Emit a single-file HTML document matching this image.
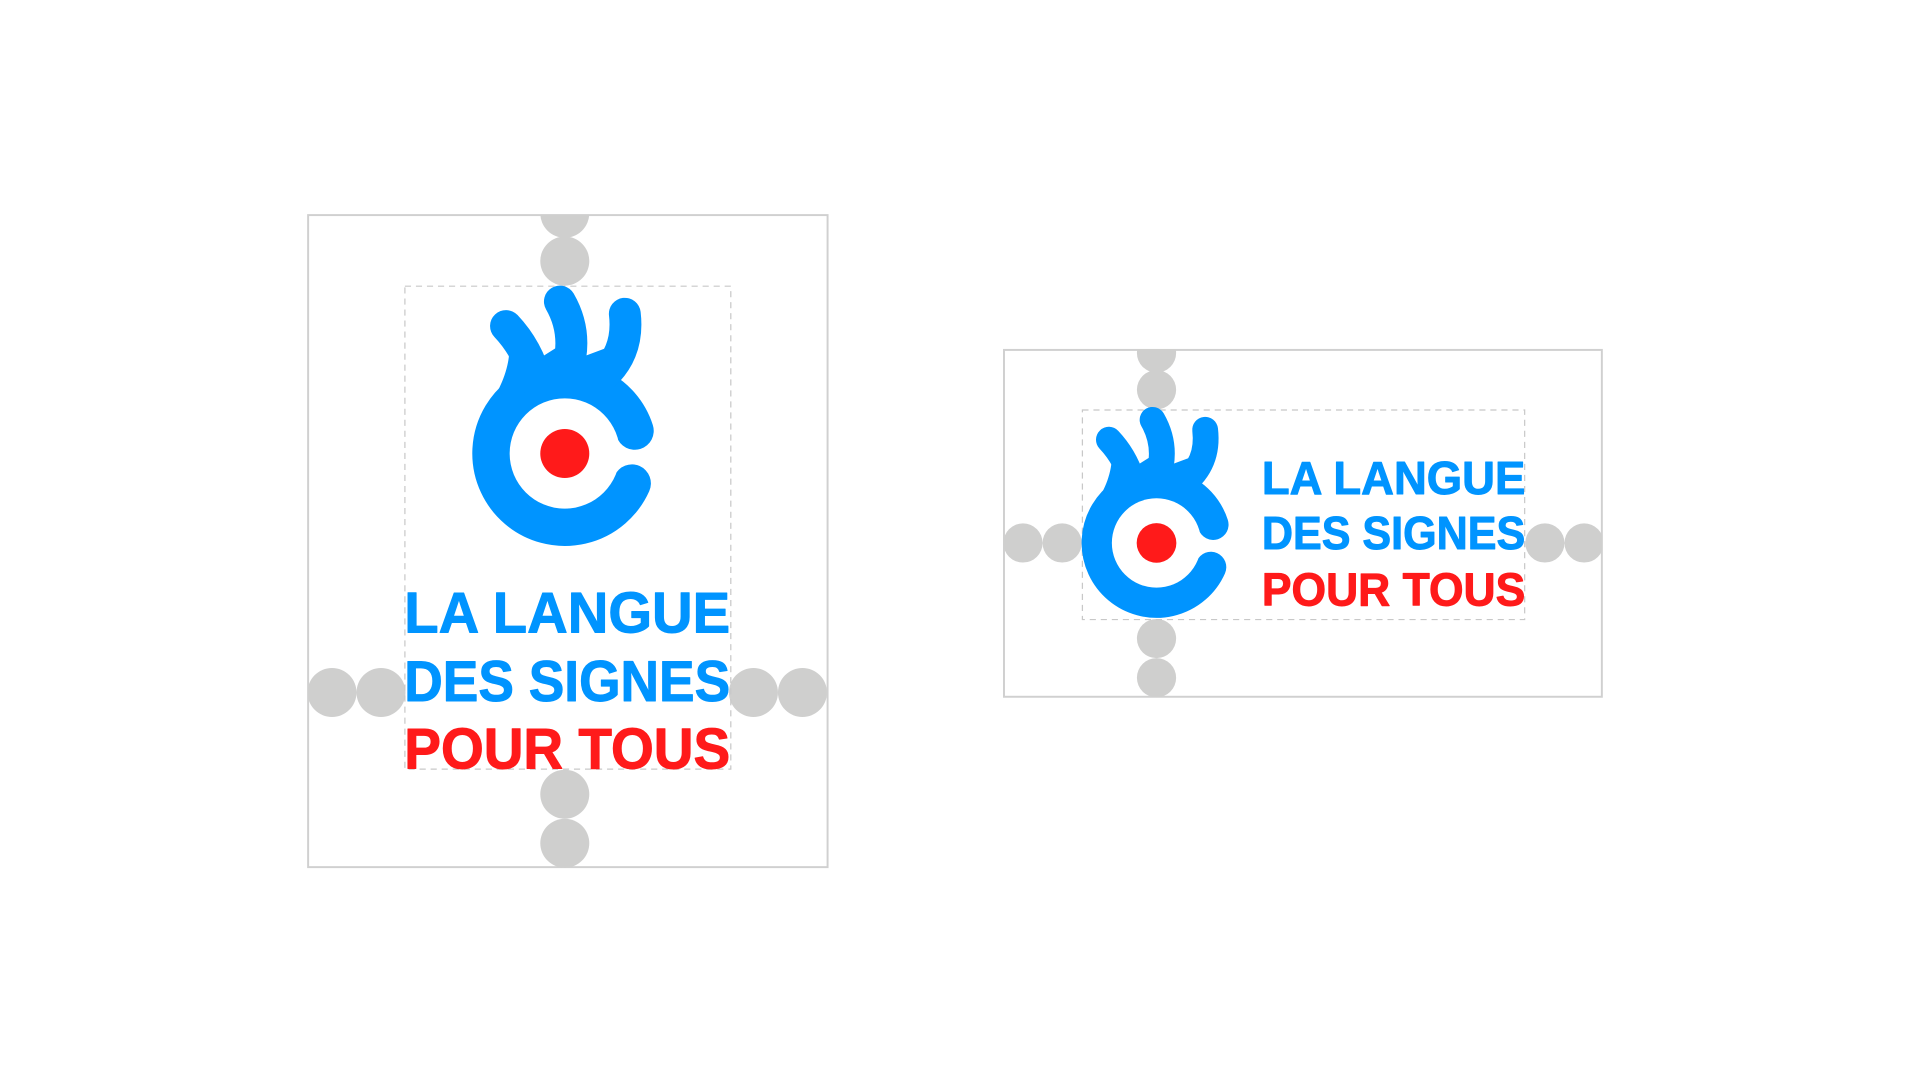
<!DOCTYPE html>
<html><head><meta charset="utf-8"><style>
html,body{margin:0;padding:0;background:#fff;width:1921px;height:1081px;overflow:hidden}
svg{display:block}
text{font-family:"Liberation Sans",sans-serif;font-weight:bold;stroke-width:0.8;stroke-linejoin:round}
</style></head><body>
<svg width="1921" height="1081" viewBox="0 0 1568 882" preserveAspectRatio="none">
<defs>
<clipPath id="c1"><rect x="251" y="175" width="425" height="533"/></clipPath>
<clipPath id="c2"><rect x="819" y="285" width="489" height="284"/></clipPath>
<g id="logo">
  <path d="M515.8 394.4 A60 60 0 1 1 518.1 351.5" fill="none" stroke="#0094ff" stroke-width="31" stroke-linecap="round"/>
  <path d="M398 332 C410 316 416 298 416 282 L430 280 L441 292 L460 280 L472 280 L476 291 L500 282 L505 300 L503 309 C515 317 525 330 530 342 L505 352 L500 340 L461 318 L420 335 Z" fill="#0094ff"/>
  <path d="M413 266 Q431 285 438 312" fill="none" stroke="#0094ff" stroke-width="26" stroke-linecap="round"/>
  <path d="M457 246 Q472 272 463 302" fill="none" stroke="#0094ff" stroke-width="26" stroke-linecap="round"/>
  <path d="M510 256 Q514 290 488 310" fill="none" stroke="#0094ff" stroke-width="26" stroke-linecap="round"/>
  <circle cx="461" cy="370" r="45" fill="#fff"/>
  <circle cx="461" cy="370" r="20" fill="#ff1a1a"/>
</g>
</defs>

<rect x="251.5" y="175.5" width="424" height="532" fill="none" stroke="#d0d0d0" stroke-width="1.6"/>
<g clip-path="url(#c1)" fill="#cfcfce">
  <circle cx="461" cy="174" r="20"/>
  <circle cx="461" cy="213" r="20"/>
  <circle cx="461" cy="648" r="20"/>
  <circle cx="461" cy="688" r="20"/>
  <circle cx="271" cy="565" r="20"/>
  <circle cx="311" cy="565" r="20"/>
  <circle cx="615" cy="565" r="20"/>
  <circle cx="655" cy="565" r="20"/>
</g>
<rect x="330.5" y="233.5" width="266" height="394" fill="none" stroke="#c8c8c8" stroke-width="1" stroke-dasharray="5,4"/>
<use href="#logo"/>
<text x="330" y="516" font-size="47" fill="#0094ff" stroke="#0094ff" textLength="266" lengthAdjust="spacingAndGlyphs">LA LANGUE</text>
<text x="330" y="572" font-size="47" fill="#0094ff" stroke="#0094ff" textLength="266" lengthAdjust="spacingAndGlyphs">DES SIGNES</text>
<text x="330" y="627" font-size="47" fill="#ff1a1a" stroke="#ff1a1a" textLength="266" lengthAdjust="spacingAndGlyphs">POUR TOUS</text>

<rect x="819.5" y="285.5" width="488" height="283" fill="none" stroke="#d0d0d0" stroke-width="1.6"/>
<g clip-path="url(#c2)" fill="#cfcfce">
  <circle cx="944" cy="288" r="16"/>
  <circle cx="944" cy="318" r="16"/>
  <circle cx="944" cy="521" r="16"/>
  <circle cx="944" cy="553" r="16"/>
  <circle cx="835" cy="443" r="16"/>
  <circle cx="867" cy="443" r="16"/>
  <circle cx="1261" cy="443" r="16"/>
  <circle cx="1293" cy="443" r="16"/>
</g>
<rect x="883.5" y="334.5" width="361" height="171" fill="none" stroke="#c8c8c8" stroke-width="1" stroke-dasharray="5,4"/>
<g transform="translate(944,443) scale(0.81) translate(-461,-370)"><use href="#logo"/></g>
<text x="1030" y="403" font-size="38" fill="#0094ff" stroke="#0094ff" textLength="215" lengthAdjust="spacingAndGlyphs">LA LANGUE</text>
<text x="1030" y="448" font-size="38" fill="#0094ff" stroke="#0094ff" textLength="215" lengthAdjust="spacingAndGlyphs">DES SIGNES</text>
<text x="1030" y="494" font-size="38" fill="#ff1a1a" stroke="#ff1a1a" textLength="215" lengthAdjust="spacingAndGlyphs">POUR TOUS</text>
</svg>
</body></html>
